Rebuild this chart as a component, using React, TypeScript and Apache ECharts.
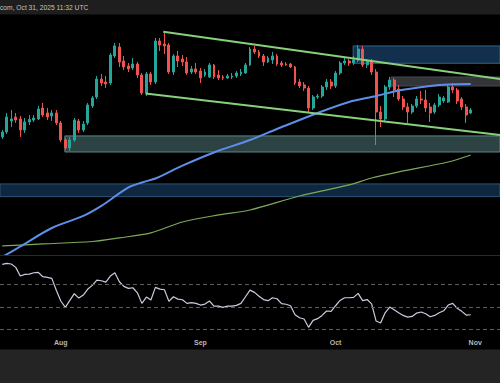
import React, { useEffect, useRef } from "react";
import * as echarts from "echarts";

const headerText = "com, Oct 31, 2025 11:32 UTC";
const monthLabels = ["Jan", "Feb", "Mar", "Apr", "May", "Jun", "Jul", "Aug", "Sep", "Oct", "Nov", "Dec"];
const dayCount = 111; // Jul 19 .. Nov 7 (empty space to the right of the last candle)

// Daily candles, Jul 19 .. Oct 31, 2025
const opens = [3527,3586,3718,3767,3743,3609,3706,3730,3743,3881,3818,3780,3818,3694,3492,3401,3492,3718,3609,3694,3907,4025,4271,4229,4215,4609,4748,4533,4459,4430,4488,4328,4079,4343,4229,4843,4795,4779,4371,4609,4563,4518,4371,4415,4386,4328,4300,4474,4328,4300,4286,4300,4314,4343,4357,4474,4716,4670,4609,4518,4548,4609,4503,4488,4488,4444,4229,4188,4146,3881,4025,4038,4160,4229,4174,4357,4503,4533,4503,4548,4716,4474,4533,4371,3830,3743,4160,4257,4133,3998,3894,3830,3907,3998,3985,3894,3830,3920,3972,3959,4160,4119,3998,3894,3818];
const closes = [3586,3767,3743,3730,3609,3706,3737,3755,3868,3792,3767,3818,3694,3492,3401,3492,3730,3609,3681,3920,4012,4271,4215,4201,4624,4764,4518,4444,4415,4488,4328,4079,4343,4229,4843,4779,4764,4371,4609,4533,4518,4357,4415,4371,4286,4371,4474,4300,4286,4286,4314,4314,4357,4371,4474,4716,4670,4609,4518,4578,4609,4488,4474,4474,4444,4215,4174,4146,3881,4025,4038,4160,4229,4174,4357,4503,4533,4503,4548,4716,4474,4533,4371,3830,3743,4160,4257,4119,3998,3894,3830,3907,3998,3985,3881,3818,3920,4025,4012,4160,4119,3972,3894,3792,3856];
const highs = [3609,3818,3856,3818,3780,3755,3792,3792,3907,3946,3881,3856,3856,3718,3515,3527,3755,3743,3718,3946,4038,4314,4343,4314,4654,4811,4811,4609,4503,4578,4518,4357,4371,4371,4891,4891,4972,4811,4639,4685,4624,4593,4459,4503,4430,4415,4503,4488,4400,4328,4343,4357,4386,4415,4503,4748,4764,4701,4639,4609,4670,4639,4533,4518,4503,4459,4271,4229,4174,4052,4065,4188,4271,4271,4386,4533,4578,4563,4609,4779,4764,4563,4563,4415,3907,4188,4300,4286,4188,4038,3946,3933,4038,4106,4119,3946,3946,4065,4038,4188,4215,4146,4025,3933,3881];
const lows = [3503,3562,3645,3694,3527,3574,3669,3706,3730,3767,3730,3718,3669,3469,3378,3367,3469,3574,3586,3669,3881,3998,4174,4146,4188,4578,4444,4400,4371,4400,4286,4052,4038,4188,4201,4685,4639,4343,4328,4444,4459,4328,4343,4343,4215,4300,4286,4271,4257,4257,4271,4271,4286,4314,4343,4459,4639,4578,4459,4503,4488,4459,4444,4459,4430,4188,4146,4106,3830,3856,3998,4012,4119,4133,4146,4328,4474,4459,4474,4518,4444,4430,4328,3435,3645,3718,4119,4025,3972,3856,3694,3805,3881,3933,3830,3706,3805,3894,3946,3946,4079,3933,3856,3694,3805];

// RSI (14), one value per candle
const rsi = [87.7,88.5,88.0,85.0,77.3,78.8,79.0,80.2,80.6,76.7,76.1,75.2,64.6,55.1,49.5,55.7,61.6,57.7,60.4,65.7,69.0,73.7,73.1,71.9,77.3,80.2,72.2,68.1,66.3,66.9,62.4,53.0,58.6,56.0,67.2,65.7,65.1,54.8,58.9,56.8,56.2,53.0,53.6,53.0,51.5,52.4,55.1,50.6,50.6,49.5,50.6,50.6,51.2,53.0,58.9,64.8,62.8,59.4,56.4,55.4,58.0,57.1,52.8,52.2,50.9,42.9,40.2,39.1,31.7,37.9,39.4,42.3,46.2,45.9,50.9,55.6,58.0,58.0,58.3,61.9,55.4,56.4,52.5,37.3,35.5,44.6,49.7,47.3,44.6,42.3,40.8,41.4,44.4,45.3,43.8,41.1,42.3,44.6,46.4,51.5,53.0,48.6,45.9,42.6,42.9];
const rsiLevels = [70, 50, 30];

// Moving averages (read at a few days; index = days since Jul 19)
const blueMaDays = [0, 4, 11, 18, 22, 28, 31, 34, 40, 47, 55, 61, 70, 77, 83, 88, 95, 99, 104];
const blueMaValues = [2373, 2456, 2611, 2717, 2808, 2985, 3035, 3075, 3208, 3351, 3492, 3621, 3818, 3959, 4038, 4112, 4174, 4195, 4201];
const greenMaDays = [0, 9, 20, 26, 33, 40, 48, 55, 66, 77, 82, 88, 99, 104];
const greenMaValues = [2461, 2477, 2497, 2527, 2569, 2663, 2726, 2771, 2902, 3010, 3080, 3142, 3247, 3323];

// Descending channel
const channelTopDays = [35.75, 110.5];
const channelTopValues = [4994, 4271];
const channelBottomDays = [31.8, 110.5];
const channelBottomValues = [4072, 3550];

// Zones: [fromDay, toDay, high, low]
const zoneTop = [77.9, 111, 4764, 4499];
const zoneGray = [86.3, 111, 4300, 4174];
const zoneSupport = [13.9, 111, 3539, 3356];
const zoneNavy = [-1, 111, 3020, 2896];

function buildDates(): string[] {
  const out: string[] = [];
  const t0 = Date.UTC(2025, 6, 19);
  for (let i = 0; i < dayCount; i++) {
    out.push(new Date(t0 + i * 86400000).toISOString().slice(0, 10));
  }
  return out;
}

function zoneArea(z: number[], fill: string, border: string) {
  return [
    { xAxis: z[0], yAxis: z[2], itemStyle: { color: fill, borderColor: border, borderWidth: 1 } },
    { xAxis: z[1], yAxis: z[3] },
  ];
}

export default function App() {
  const ref = useRef<HTMLDivElement>(null);
  useEffect(() => {
    if (!ref.current) return;
    const chart = echarts.init(ref.current, undefined, { renderer: "svg" });
    const dates = buildDates();
    const candleData = dates.map((_, i) =>
      i < opens.length ? [opens[i], closes[i], lows[i], highs[i]] : "-"
    );
    const rsiData = dates.map((_, i) => (i < rsi.length ? rsi[i] : "-"));
    const pairs = (xs: number[], ys: number[]) => xs.map((x, i) => [x, ys[i]]);

    const option: any = {
      animation: false,
      backgroundColor: "#000000",
      grid: [
        { left: 0, right: 0, top: 15, height: 240 },
        { left: 0, right: 0, top: 255, height: 81 },
      ],
      xAxis: [
        { type: "category", gridIndex: 0, data: dates, boundaryGap: true, show: false },
        { type: "value", gridIndex: 0, min: -0.5, max: 110.5, show: false },
        {
          type: "category",
          gridIndex: 1,
          data: dates,
          boundaryGap: true,
          axisLine: { show: false },
          axisTick: { show: false },
          splitLine: { show: false },
          axisLabel: {
            interval: (_idx: number, val: string) => val.endsWith("-01"),
            formatter: (val: string) => monthLabels[Number(val.slice(5, 7)) - 1],
            color: "#b6b6b6",
            fontSize: 7,
            fontWeight: "bold",
            fontFamily: "Liberation Sans",
            margin: 3,
          },
        },
      ],
      yAxis: [
        { type: "log", logBase: 10, gridIndex: 0, min: 2388, max: 5277, show: false, splitLine: { show: false } },
        { type: "value", gridIndex: 1, min: 24, max: 96, show: false, splitLine: { show: false } },
      ],
      graphic: [
        { type: "rect", shape: { x: 0, y: 0, width: 500, height: 14.5 }, style: { fill: "#1e1e1e" }, z: 10 },
        {
          type: "text",
          x: 0,
          y: 7.5,
          style: { text: headerText, fill: "#c4c4c4", fontSize: 6.7, fontFamily: "Liberation Sans", verticalAlign: "middle" },
          z: 11,
        },
        { type: "line", shape: { x1: 0, y1: 255.5, x2: 500, y2: 255.5 }, style: { stroke: "#2a2a2a", lineWidth: 1 }, z: 10 },
        { type: "rect", shape: { x: 0, y: 349.5, width: 500, height: 34 }, style: { fill: "#242424" }, z: 10 },
      ],
      series: [
        {
          type: "line",
          name: "zones",
          xAxisIndex: 1,
          yAxisIndex: 0,
          data: [[0, 3000]],
          showSymbol: false,
          symbol: "none",
          lineStyle: { opacity: 0 },
          silent: true,
          z: 1,
          markArea: {
            silent: true,
            data: [
              zoneArea(zoneNavy, "#10283f", "#2a5478"),
              zoneArea(zoneSupport, "#2d4243", "#5b8787"),
              zoneArea(zoneGray, "#323437", "#46494e"),
              zoneArea(zoneTop, "#12304d", "#2f6590"),
            ],
          },
        },
        {
          type: "candlestick",
          xAxisIndex: 0,
          yAxisIndex: 0,
          data: candleData,
          barWidth: 2.4,
          z: 3,
          silent: true,
          itemStyle: {
            color: "#26a69a",
            color0: "#ef5350",
            borderColor: "#26a69a",
            borderColor0: "#ef5350",
            borderWidth: 1,
          },
        },
        {
          type: "line",
          name: "MA200",
          xAxisIndex: 1,
          yAxisIndex: 0,
          data: pairs(greenMaDays, greenMaValues),
          smooth: 0.3,
          symbol: "none",
          lineStyle: { color: "#7daa58", width: 1.2 },
          z: 4,
          silent: true,
        },
        {
          type: "line",
          name: "MA100",
          xAxisIndex: 1,
          yAxisIndex: 0,
          data: pairs(blueMaDays, blueMaValues),
          smooth: 0.3,
          symbol: "none",
          lineStyle: { color: "#5d8fe8", width: 2 },
          z: 5,
          silent: true,
        },
        {
          type: "line",
          name: "channelTop",
          xAxisIndex: 1,
          yAxisIndex: 0,
          data: pairs(channelTopDays, channelTopValues),
          symbol: "none",
          lineStyle: { color: "#88d07c", width: 2 },
          z: 6,
          silent: true,
        },
        {
          type: "line",
          name: "channelBottom",
          xAxisIndex: 1,
          yAxisIndex: 0,
          data: pairs(channelBottomDays, channelBottomValues),
          symbol: "none",
          lineStyle: { color: "#88d07c", width: 2 },
          z: 6,
          silent: true,
        },
        {
          type: "line",
          name: "RSI",
          xAxisIndex: 2,
          yAxisIndex: 1,
          data: rsiData,
          symbol: "none",
          lineStyle: { color: "#c9cce0", width: 1.2 },
          z: 4,
          silent: true,
          markLine: {
            silent: true,
            symbol: "none",
            label: { show: false },
            lineStyle: { color: "#5c5c5c", type: [4, 3], width: 1 },
            data: rsiLevels.map((v) => ({ yAxis: v })),
          },
        },
      ],
    };
    chart.setOption(option);
    return () => chart.dispose();
  }, []);
  return <div ref={ref} style={{ position: "fixed", left: 0, top: 0, width: 500, height: 383 }} />;
}
